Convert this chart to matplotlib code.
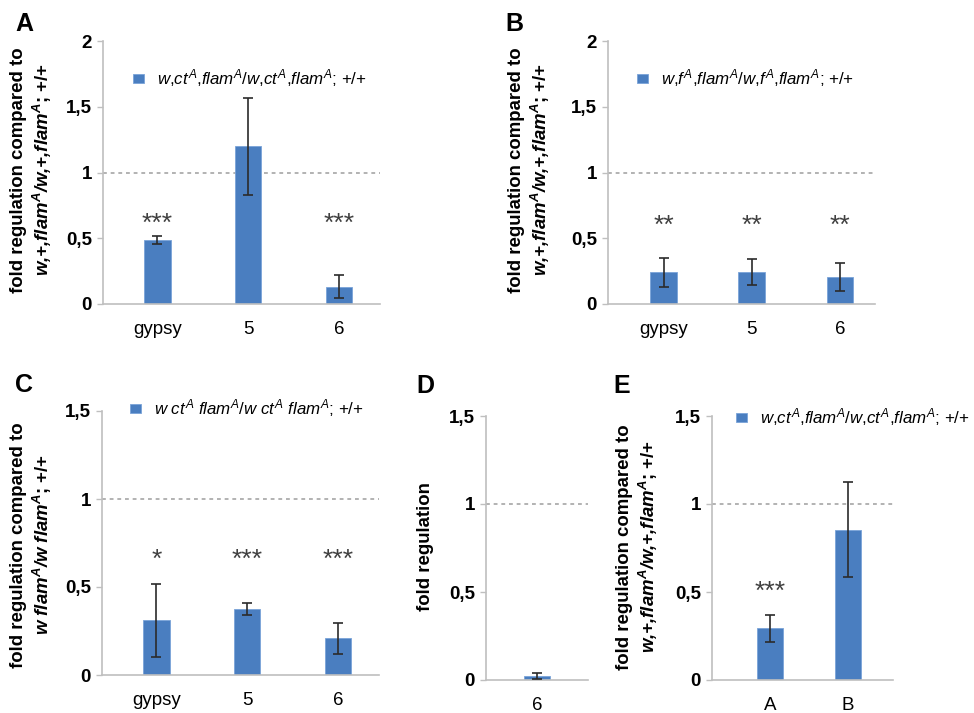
import matplotlib
matplotlib.use('Agg')
import matplotlib.pyplot as plt

plt.rcParams['font.family'] = ['Liberation Sans', 'DejaVu Sans']
plt.rcParams['mathtext.fontset'] = 'custom'
plt.rcParams['mathtext.rm'] = 'Liberation Sans'
plt.rcParams['mathtext.it'] = 'Liberation Sans:italic'
plt.rcParams['mathtext.bf'] = 'Liberation Sans:italic:bold'

# panel A
cats_a = ['gypsy', '5', '6']
vals_a = [0.49, 1.20, 0.13]
err_a = [0.03, 0.37, 0.088]
stars_a = ['***', '', '***']

# panel B
cats_b = ['gypsy', '5', '6']
vals_b = [0.24, 0.245, 0.205]
err_b = [0.11, 0.10, 0.105]
stars_b = ['**', '**', '**']

# panel C
cats_c = ['gypsy', '5', '6']
vals_c = [0.31, 0.375, 0.21]
err_c = [0.205, 0.035, 0.088]
stars_c = ['*', '***', '***']

# panel D
cats_d = ['6']
vals_d = [0.022]
err_d = [0.015]
stars_d = ['']

# panel E
cats_e = ['A', 'B']
vals_e = [0.295, 0.855]
err_e = [0.077, 0.27]
stars_e = ['***', '']

ticks_2 = [0, 0.5, 1, 1.5, 2]
ticklabels_2 = ['0', '0,5', '1', '1,5', '2']
ticks_15 = [0, 0.5, 1, 1.5]
ticklabels_15 = ['0', '0,5', '1', '1,5']

leg_a = r'$w{,}ct^{A}{,}flam^{A}/w{,}ct^{A}{,}flam^{A}$; +/+'
leg_b = r'$w{,}f^{A}{,}flam^{A}/w{,}f^{A}{,}flam^{A}$; +/+'
leg_c = r'$w\ ct^{A}\ flam^{A}/w\ ct^{A}\ flam^{A}$; +/+'
ylab_a = 'fold regulation compared to\n' + r'$\mathbf{w{,}{+}{,}flam^{A}/w{,}{+}{,}flam^{A}}$; +/+'
ylab_c = 'fold regulation compared to\n' + r'$\mathbf{w\ flam^{A}/w\ flam^{A}}$; +/+'
ylab_d = 'fold regulation'

W, H = 974, 713
BLUE = '#4a7ec0'
GRID = '#bfbfbf'

fig = plt.figure(figsize=(W / 100, H / 100), dpi=100)


def px_rect(x0, x1, yt, yb):
    return [x0 / W, 1 - yb / H, (x1 - x0) / W, (yb - yt) / H]


def panel(rect, cats, vals, errs, stars, star_y, ymax, yticks, yticklabels, xlim, width):
    ax = fig.add_axes(rect)
    x = list(range(len(cats)))
    bars = ax.bar(x, vals, width, color=BLUE, edgecolor='#7aa3d8', linewidth=0.6, zorder=2)
    ax.errorbar(x, vals, yerr=errs, fmt='none', ecolor='#2b2b2b', elinewidth=1.2,
                capsize=3.5, capthick=1.2, zorder=3)
    ax.axhline(1, color='#a6a6a6', lw=1.2, dashes=(2.3, 2.3), zorder=1)
    ax.set_xlim(xlim)
    ax.set_ylim(0, ymax)
    ax.set_xticks(x)
    ax.set_xticklabels(cats, fontsize=13.5)
    ax.set_yticks(yticks)
    ax.set_yticklabels(yticklabels, fontsize=13.5, fontweight='bold')
    for s in ['top', 'right']:
        ax.spines[s].set_visible(False)
    for s in ['left', 'bottom']:
        ax.spines[s].set_color(GRID)
        ax.spines[s].set_linewidth(1.2)
    ax.tick_params(axis='x', length=0, pad=12)
    ax.tick_params(axis='y', length=4, width=1, color=GRID, pad=4)
    for xi, s in zip(x, stars):
        ax.annotate(s, (xi, star_y), xytext=(0, -11), textcoords='offset points',
                    ha='center', va='baseline', fontsize=19, color='#404040')
    return ax, bars


def add_legend(ax, bars, label, xpx, ypx):
    ax.legend([bars], [label], loc='center left', bbox_to_anchor=(xpx / W, 1 - ypx / H),
              bbox_transform=fig.transFigure, frameon=False, fontsize=12.2,
              handlelength=0.64, handleheight=0.46, handletextpad=0.75,
              borderpad=0, borderaxespad=0)


def ylabel(text, xpx, ypx):
    fig.text(xpx / W, 1 - ypx / H, text, rotation=90, ha='center', va='center',
             multialignment='center', fontsize=13.4, fontweight='bold')


def letter(s, xpx, ypx):
    fig.text(xpx / W, 1 - ypx / H, s, ha='left', va='baseline', fontsize=18, fontweight='bold')


ax_a, bars_a = panel(px_rect(103, 380, 41, 304), cats_a, vals_a, err_a, stars_a, 0.67,
                     2, ticks_2, ticklabels_2, (-0.6, 2.45), 0.29)
add_legend(ax_a, bars_a, leg_a, 133, 78)
ylabel(ylab_a, 32, 170)
letter('A', 15, 31)

ax_b, bars_b = panel(px_rect(608, 875, 41, 304), cats_b, vals_b, err_b, stars_b, 0.66,
                     2, ticks_2, ticklabels_2, (-0.63, 2.4), 0.3)
add_legend(ax_b, bars_b, leg_b, 637, 78)
ylabel(ylab_a, 530, 170)
letter('B', 505, 31)

ax_c, bars_c = panel(px_rect(102, 379, 411, 675), cats_c, vals_c, err_c, stars_c, 0.70,
                     1.5, ticks_15, ticklabels_15, (-0.6, 2.45), 0.29)
add_legend(ax_c, bars_c, leg_c, 130, 408)
ylabel(ylab_c, 32, 545)
letter('C', 15, 392)

ax_d, bars_d = panel(px_rect(486, 588, 416, 680), cats_d, vals_d, err_d, stars_d, 0.5,
                     1.5, ticks_15, ticklabels_15, (-0.5, 0.5), 0.26)
ylabel(ylab_d, 425, 547)
letter('D', 416, 393)

ax_e, bars_e = panel(px_rect(712, 893, 416, 680), cats_e, vals_e, err_e, stars_e, 0.55,
                     1.5, ticks_15, ticklabels_15, (-0.74, 1.58), 0.33)
add_legend(ax_e, bars_e, leg_a, 736, 417)
ylabel(ylab_a, 638, 547)
letter('E', 613, 393)

fig.savefig('out.png', dpi=100)
